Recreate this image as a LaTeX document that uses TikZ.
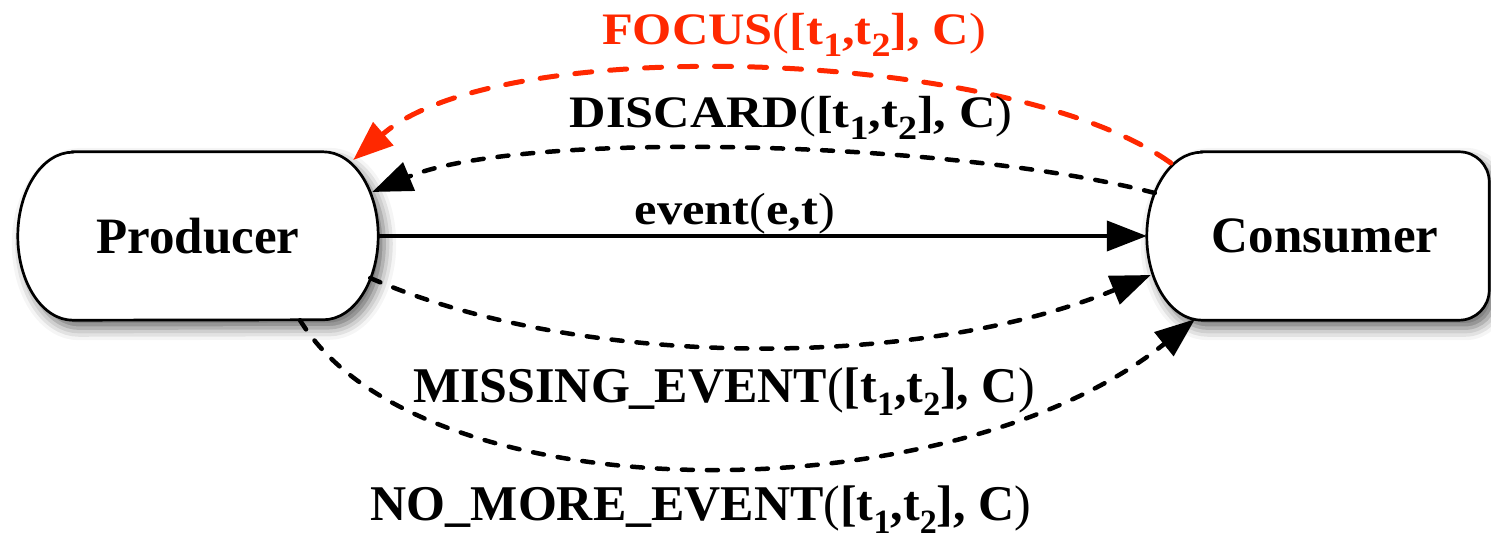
\documentclass[tikz,border=0pt]{standalone}
\usepackage{fontspec}
\setmainfont{Liberation Serif}
\newfontfamily\labfont[FakeStretch=1.12]{Liberation Serif}
\newfontfamily\botfont{Liberation Serif}
\usetikzlibrary{arrows.meta,backgrounds,shadows.blur}
\definecolor{focusred}{RGB}{255,40,0}
\newcommand\lsub[1]{\raisebox{-0.25em}{\fontsize{34}{34}\selectfont #1}}
\newcommand\targ{{\mdseries(}[t\lsub{1},t\lsub{2}], C{\mdseries)}}
\tikzset{
  boxnode/.style={minimum height=168pt, inner sep=0pt, font=\fontsize{51}{56}\selectfont\bfseries},
  pill/.style={draw=black, line width=2.7pt, fill=white,
    blur shadow={shadow xshift=6pt, shadow yshift=-8pt, shadow blur radius=12pt, shadow opacity=60}},
  lbl/.style={font=\labfont\fontsize{45}{50}\selectfont\bfseries, anchor=base, inner sep=0pt},
  blbl/.style={font=\botfont\fontsize{50}{55}\selectfont\bfseries, anchor=base, inner sep=0pt},
  tip/.style={-{Triangle[length=40pt,width=30pt]}},
  solidarrow/.style={tip, line width=4pt},
  darrow/.style={tip, line width=4.5pt, line cap=round, dash pattern=on 11pt off 14pt},
  redarrow/.style={tip, draw=focusred, line width=5pt, line cap=round, dash pattern=on 17pt off 18pt}
}
\begin{document}
\begin{tikzpicture}[x=1pt,y=1pt]
\useasboundingbox (0,0) rectangle (1491,538);
\node[boxnode, minimum width=360pt] (P) at (198,302) {Producer};
\node[boxnode, minimum width=342pt] (C) at (1318,302) {\hspace{14pt}Consumer};
\begin{scope}[on background layer]
\draw[pill] ([xshift=55pt]P.north west) -- ([xshift=-55pt]P.north east)
  arc[start angle=90,end angle=-90,x radius=55pt,y radius=84pt]
  -- ([xshift=55pt]P.south west)
  arc[start angle=270,end angle=90,x radius=55pt,y radius=84pt] -- cycle;
\draw[pill] ([xshift=55pt]C.north west) -- ([xshift=-30pt]C.north east)
  arc[start angle=90,end angle=0,radius=30pt]
  -- ([yshift=30pt]C.south east)
  arc[start angle=0,end angle=-90,radius=30pt]
  -- ([xshift=55pt]C.south west)
  arc[start angle=270,end angle=90,x radius=55pt,y radius=84pt] -- cycle;
\end{scope}
\draw[solidarrow] (P.east) -- (C.west);
\draw[darrow] ([xshift=-8pt,yshift=-42pt]P.east) .. controls (580,168) and (920,168) .. ([xshift=4pt,yshift=-39pt]C.west);
\draw[darrow] ([xshift=102pt]P.south) .. controls (420,22) and (950,22) .. ([xshift=-123pt,yshift=1pt]C.south);
\draw[darrow] ([xshift=8pt,yshift=43pt]C.west) .. controls (950,398) and (520,408) .. ([xshift=-6pt,yshift=44pt]P.east);
\draw[redarrow] ([xshift=24pt,yshift=73pt]C.west) .. controls (1010,490) and (500,506) .. ([xshift=-25pt,yshift=76pt]P.east);
\node[lbl, text=focusred] (lfocus) at (794,493) {FOCUS\targ};
\node[lbl] (ldiscard) at (791,410) {DISCARD\targ};
\node[lbl] (levent) at (735,313) {event{\mdseries(}e,t{\mdseries)}};
\node[blbl] (lmissing) at (724,135) {MISSING\_EVENT\targ};
\node[blbl] (lnomore) at (701,17) {NO\_MORE\_EVENT\targ};
\end{tikzpicture}
\end{document}
